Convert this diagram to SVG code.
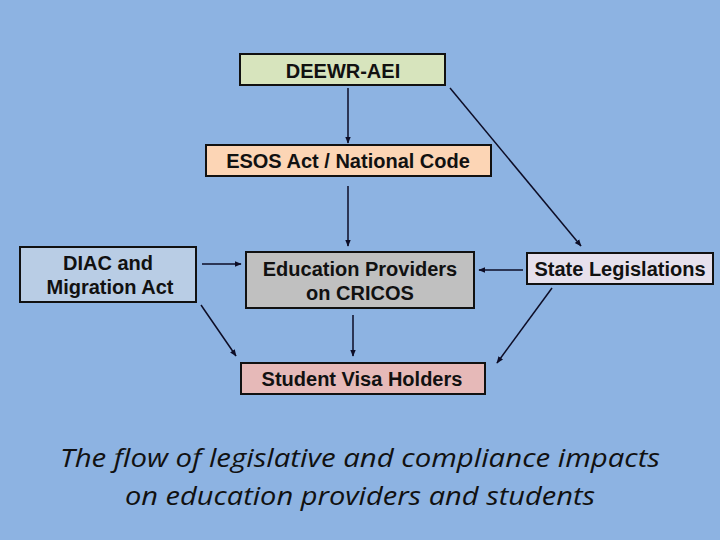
<svg xmlns="http://www.w3.org/2000/svg" width="720" height="540" viewBox="0 0 720 540">
<defs>
<marker id="ah" viewBox="0 0 10 10" refX="9" refY="5" markerWidth="7" markerHeight="7" markerUnits="userSpaceOnUse" orient="auto">
<path d="M0,1 L10,5 L0,9 z" fill="#0d0d26"/>
</marker>
<style>
.box{stroke:#111;stroke-width:2}
.lbl{font-family:"Liberation Sans",Arial,sans-serif;font-weight:bold;font-size:20px;fill:#111;text-anchor:middle}
.conn line{stroke:#0d0d26;stroke-width:1.5;marker-end:url(#ah)}
.cap{font-family:"Open Sans","Noto Sans",sans-serif;font-style:italic;font-size:26px;fill:#111;text-anchor:middle}
</style>
</defs>
<rect width="720" height="540" fill="#8db3e2"/>
<g id="deewr"><rect class="box" x="240" y="54" width="205" height="31" fill="#d7e4bd"/><text class="lbl" x="343" y="78">DEEWR-AEI</text></g>
<g id="esos"><rect class="box" x="206" y="145" width="285" height="31" fill="#fcd5b5"/><text class="lbl" x="348" y="168">ESOS Act / National Code</text></g>
<g id="diac"><rect class="box" x="20" y="247" width="176" height="55" fill="#b9cde5"/><text class="lbl" x="108" y="270">DIAC and</text><text class="lbl" x="110" y="294">Migration Act</text></g>
<g id="edu"><rect class="box" x="246" y="252" width="228" height="56" fill="#c0c0c0"/><text class="lbl" x="360" y="276">Education Providers</text><text class="lbl" x="360" y="300">on CRICOS</text></g>
<g id="state"><rect class="box" x="527" y="253" width="186" height="31" fill="#e6e0ec"/><text class="lbl" x="620" y="276">State Legislations</text></g>
<g id="student"><rect class="box" x="241" y="363" width="244" height="31" fill="#e6b9b8"/><text class="lbl" x="362" y="386">Student Visa Holders</text></g>
<g id="connectors" class="conn">
<line x1="348" y1="88" x2="348" y2="143"/>
<line x1="348" y1="186" x2="348" y2="246"/>
<line x1="450" y1="88" x2="581" y2="246"/>
<line x1="202" y1="264" x2="241" y2="264"/>
<line x1="523" y1="270" x2="479" y2="270"/>
<line x1="201" y1="305" x2="236" y2="356"/>
<line x1="353" y1="315" x2="353" y2="356"/>
<line x1="552" y1="288" x2="497" y2="363"/>
</g>
<text class="cap" x="360" y="467" textLength="600" lengthAdjust="spacingAndGlyphs">The flow of legislative and compliance impacts</text>
<text class="cap" x="360" y="505" textLength="470" lengthAdjust="spacingAndGlyphs">on education providers and students</text>
</svg>
